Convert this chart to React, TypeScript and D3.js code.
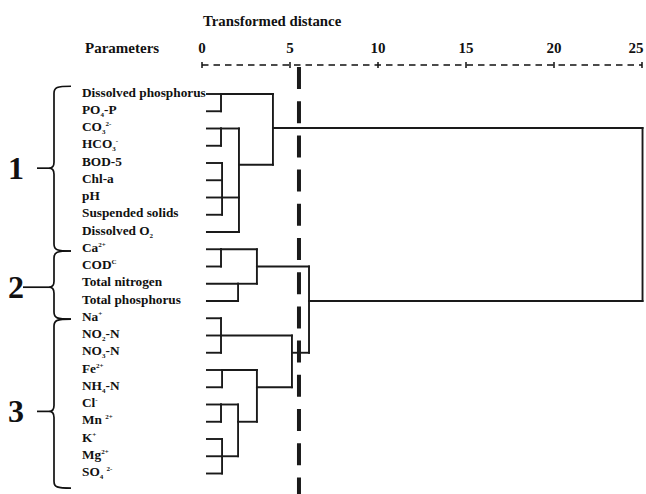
import React from "react";
import * as d3 from "d3";

const W = 646;
const H = 494;

// parameter names, top to bottom (_{..} subscript, ^{..} superscript)
const parameters = [
  "Dissolved phosphorus",
  "PO_{4}-P",
  "CO_{3}^{2-}",
  "HCO_{3}^{-}",
  "BOD-5",
  "Chl-a",
  "pH",
  "Suspended solids",
  "Dissolved O_{2}",
  "Ca^{2+}",
  "COD^{C}",
  "Total nitrogen",
  "Total phosphorus",
  "Na^{+}",
  "NO_{2}-N",
  "NO_{3}-N",
  "Fe^{2+}",
  "NH_{4}-N",
  "Cl^{-}",
  "Mn ^{2+}",
  "K^{+}",
  "Mg^{2+}",
  "SO_{4} ^{2-}",
];

const distanceTicks = [0, 5, 10, 15, 20, 25];

// merges: children are leaf indexes or merge ids, height = transformed distance,
// row = where the cluster's outgoing line sits (in leaf rows)
const merges = [
  { id: "A", children: [0, 1], height: 1.08, row: 0 },
  { id: "B", children: [2, 3], height: 1.08, row: 2 },
  { id: "C", children: [4, 5, 6, 7], height: 1.14, row: 6 },
  { id: "D", children: ["B", "C", 8], height: 2.1, row: 4.1 },
  { id: "E", children: ["A", "D"], height: 4.03, row: 1.97 },
  { id: "M", children: [9, 10], height: 1.08, row: 9 },
  { id: "N", children: [11, 12], height: 2.05, row: 11 },
  { id: "O", children: ["M", "N"], height: 3.12, row: 10 },
  { id: "F", children: [13, 14, 15], height: 1.08, row: 14 },
  { id: "G", children: [16, 17], height: 1.14, row: 16 },
  { id: "H", children: [18, 19], height: 1.08, row: 18 },
  { id: "I", children: [20, 21, 22], height: 1.14, row: 21 },
  { id: "J", children: ["H", "I"], height: 2.05, row: 19 },
  { id: "K", children: ["G", "J"], height: 3.12, row: 17 },
  { id: "L", children: ["F", "K"], height: 5.11, row: 15 },
  { id: "P", children: ["O", "L"], height: 6.08, row: 12 },
  { id: "R", children: ["E", "P"], height: 25.03, row: null },
];

const leafStart = 0.28;
const cutDistance = 5.51;

// cluster groups marked with braces (rows)
const groups = [
  { label: "1", from: -0.45, tip: 4.3, to: 9.1, lead: 37 },
  { label: "2", from: 9.1, tip: 11.2, to: 13.05, lead: 23 },
  { label: "3", from: 13.05, tip: 18.4, to: 22.85, lead: 37 },
];

const font = "'Liberation Serif', 'Times New Roman', serif";

const x = d3.scaleLinear().domain([0, 25]).range([202, 642]);
const y = d3.scaleLinear().domain([0, 22]).range([94, 473.5]);

function parseLabel(s: string) {
  const parts: { text: string; shift: number }[] = [];
  const re = /([_^])\{([^}]*)\}|([^_^]+)/g;
  let m;
  while ((m = re.exec(s))) {
    if (m[3]) parts.push({ text: m[3], shift: 0 });
    else parts.push({ text: m[2], shift: m[1] === "_" ? 3 : -5 });
  }
  return parts;
}

function buildSegments() {
  const info = new Map<string | number, { height: number; row: number }>();
  parameters.forEach((_, i) => info.set(i, { height: leafStart, row: i }));
  const segs: { x1: number; y1: number; x2: number; y2: number }[] = [];
  merges.forEach((m) => {
    const kids = m.children.map((c) => info.get(c)!);
    const rows = kids.map((k) => k.row);
    segs.push({
      x1: x(m.height), y1: y(d3.min(rows)!),
      x2: x(m.height), y2: y(d3.max(rows)!),
    });
    kids.forEach((k) => {
      segs.push({ x1: x(k.height), y1: y(k.row), x2: x(m.height), y2: y(k.row) });
    });
    if (m.row !== null) info.set(m.id, { height: m.height, row: m.row });
  });
  return segs;
}

function bracePath(top: number, tip: number, bot: number) {
  const s = 54, t = 49, e = 71;
  return [
    `M${e},${top}`,
    `C${s + 3},${top} ${s},${top + 1} ${s},${top + 7}`,
    `L${s},${tip - 6}`,
    `C${s},${tip - 2} ${s - 2},${tip} ${t},${tip}`,
    `C${s - 2},${tip} ${s},${tip + 2} ${s},${tip + 6}`,
    `L${s},${bot - 7}`,
    `C${s},${bot - 1} ${s + 3},${bot} ${e},${bot}`,
  ].join(" ");
}

export default function App() {
  const segs = buildSegments();
  return (
    <svg
      width={W}
      height={H}
      style={{ position: "absolute", left: 0, top: 0, background: "#fff" }}
      fontFamily={font}
      fontWeight="bold"
    >
      <text x={203} y={26} fontSize={14.8} fill="#111">Transformed distance</text>
      <text x={85} y={53} fontSize={15} fill="#111">Parameters</text>

      {/* top axis */}
      <line x1={x(0)} x2={x(25)} y1={65} y2={65} stroke="#111" strokeWidth={1.6} strokeDasharray="6.5,5" />
      {distanceTicks.map((t) => (
        <g key={t}>
          <line x1={x(t)} x2={x(t)} y1={62} y2={68} stroke="#111" strokeWidth={1.5} />
          <text x={Math.min(x(t), W - 10)} y={53} fontSize={15} textAnchor="middle" fill="#111">{t}</text>
        </g>
      ))}

      {/* parameter labels */}
      {parameters.map((p, i) => {
        let cur = 0;
        return (
          <text key={i} x={82} y={y(i) + 2.5} fontSize={13.3} fill="#111">
            {parseLabel(p).map((part, j) => {
              const dy = part.shift - cur;
              cur = part.shift;
              return (
                <tspan key={j} dy={dy} fontSize={part.shift ? 7 : 13.3}>{part.text}</tspan>
              );
            })}
          </text>
        );
      })}

      {/* dendrogram */}
      <g stroke="#1a1a1a" strokeWidth={1.9} strokeLinecap="square">
        {segs.map((s, i) => (
          <line key={i} x1={s.x1} y1={s.y1} x2={s.x2} y2={s.y2} />
        ))}
      </g>

      {/* cut line */}
      <line
        x1={x(cutDistance)} x2={x(cutDistance)} y1={67} y2={H}
        stroke="#1a1a1a" strokeWidth={4} strokeDasharray="22,12.2"
      />

      {/* group braces */}
      {groups.map((g) => (
        <g key={g.label}>
          <path d={bracePath(y(g.from), y(g.tip), y(g.to))} fill="none" stroke="#111" strokeWidth={1.7} />
          <line x1={g.lead} x2={49} y1={y(g.tip)} y2={y(g.tip)} stroke="#111" strokeWidth={1.7} />
          <text x={16} y={y(g.tip) + 11} fontSize={32} textAnchor="middle" fill="#111">{g.label}</text>
        </g>
      ))}
    </svg>
  );
}
